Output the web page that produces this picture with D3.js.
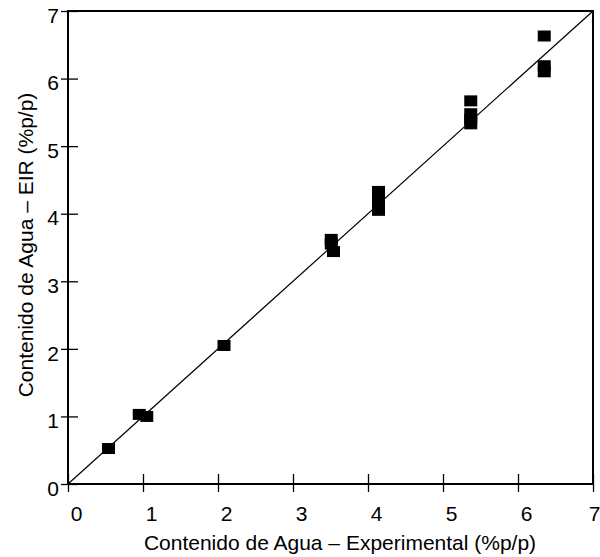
<!DOCTYPE html>
<html>
<head>
<meta charset="utf-8">
<script src="https://cdn.jsdelivr.net/npm/d3@7"></script>
<style>
  body { margin: 0; background: #fff; }
  svg { display: block; font-family: "Liberation Sans", Arial, sans-serif; }
</style>
</head>
<body>
<svg id="chart" width="600" height="557"></svg>
<script>
// measured water content (experimental vs EIR)
const expValues = [0.54, 0.95, 1.05, 2.08, 3.51, 3.51, 3.54, 4.14, 4.14, 4.14, 4.14, 5.37, 5.37, 5.37, 5.37, 6.35, 6.35, 6.35];
const eirValues = [0.525, 1.03, 1.0, 2.05, 3.62, 3.55, 3.44, 4.33, 4.24, 4.14, 4.05, 5.67, 5.48, 5.40, 5.33, 6.63, 6.19, 6.10];
const tickValues = [0, 1, 2, 3, 4, 5, 6, 7];
const xTitle = "Contenido de Agua – Experimental (%p/p)";
const yTitle = "Contenido de Agua – EIR (%p/p)";

const svg = d3.select("#chart");
const plotLeft = 68, plotRight = 593, plotTop = 11, plotBottom = 484;
const fontSize = 21;

const x = d3.scaleLinear().domain([0, 7]).range([plotLeft, plotRight]);
const y = d3.scaleLinear().domain([0, 7]).range([plotBottom, plotTop]);

// 1:1 line
svg.append("line")
    .attr("x1", x(0)).attr("y1", y(0))
    .attr("x2", x(7)).attr("y2", y(7))
    .attr("stroke", "#000").attr("stroke-width", 1.2);

// points
const pts = expValues.map((v, i) => ({ x: v, y: eirValues[i] }));
svg.selectAll("rect.pt").data(pts).enter().append("rect")
    .attr("class", "pt")
    .attr("x", d => x(d.x) - 6.5)
    .attr("y", d => y(d.y) - 5.5)
    .attr("width", 13)
    .attr("height", 11)
    .attr("fill", "#000");

// frame
svg.append("rect")
    .attr("x", plotLeft).attr("y", plotTop)
    .attr("width", plotRight - plotLeft).attr("height", plotBottom - plotTop)
    .attr("fill", "none").attr("stroke", "#000").attr("stroke-width", 2);

// x axis
const gx = svg.append("g")
    .attr("transform", `translate(0,${plotBottom})`)
    .call(d3.axisBottom(x).tickValues(tickValues).tickFormat(d3.format("d")).tickSize(8));
gx.select(".domain").remove();
gx.selectAll(".tick line").attr("y1", -10).attr("stroke-width", 1.3);
gx.selectAll(".tick text")
    .attr("y", 37).attr("dy", null)
    .attr("dx", d => d === 7 ? 1 : 8) // last label kept inside the page
    .attr("font-size", fontSize).attr("font-family", "Liberation Sans, Arial, sans-serif").attr("fill", "#000");

// y axis
const gy = svg.append("g")
    .attr("transform", `translate(${plotLeft},0)`)
    .call(d3.axisLeft(y).tickValues(tickValues).tickFormat(d3.format("d")).tickSize(7));
gy.select(".domain").remove();
gy.selectAll(".tick line").attr("x1", 10).attr("stroke-width", 1.3);
gy.selectAll(".tick text")
    .attr("x", -9).attr("y", 4.5)
    .attr("font-size", fontSize).attr("font-family", "Liberation Sans, Arial, sans-serif").attr("fill", "#000");

// titles
svg.append("text")
    .attr("x", 340).attr("y", 550)
    .attr("text-anchor", "middle")
    .attr("font-size", fontSize)
    .text(xTitle);

svg.append("text")
    .attr("transform", "translate(33,245) rotate(-90)")
    .attr("text-anchor", "middle")
    .attr("font-size", fontSize)
    .text(yTitle);
</script>
</body>
</html>
